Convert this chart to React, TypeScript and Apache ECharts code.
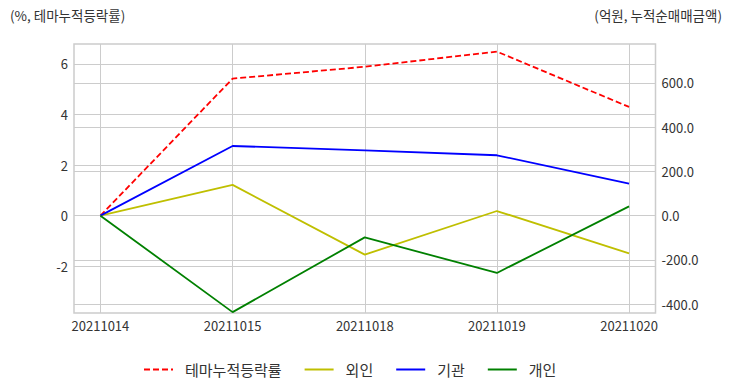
import React, { useEffect, useRef } from "react";
import * as echarts from "echarts";

const categories = ["20211014", "20211015", "20211018", "20211019", "20211020"];
const themeRate = [0, 5.42, 5.89, 6.49, 4.3];
const foreign = [0, 139, -176, 21, -170];
const institution = [0, 315, 295, 273, 145];
const individual = [0, -436, -98, -259, 42];

const leftTicks = [-2, 0, 2, 4, 6];
const rightTicks = [-400, -200, 0, 200, 400, 600];
const xTicks = [0, 1, 2, 3, 4];

const leftTitle = "(%, 테마누적등락률)";
const rightTitle = "(억원, 누적순매매금액)";

const FONT = "'Noto Sans CJK KR', 'Noto Sans', sans-serif";

export default function App() {
  const ref = useRef<HTMLDivElement>(null);
  useEffect(() => {
    if (!ref.current) return;
    const chart = echarts.init(ref.current, null, { renderer: "svg" });
    const toPts = (arr: number[]) => arr.map((v, i) => [i, v]);
    const lineSeries = (name: string, data: number[], color: string, yIdx: number, dashed = false) => ({
      name,
      type: "line",
      yAxisIndex: yIdx,
      data: toPts(data),
      showSymbol: false,
      symbol: "none",
      lineStyle: { color, width: 1.8, type: dashed ? [6, 3] : "solid" },
      itemStyle: { color },
      z: 3,
    });
    const split = { show: true, lineStyle: { color: "#cccccc", width: 1 } };
    chart.setOption({
      animation: false,
      textStyle: { fontFamily: FONT },
      grid: { left: 74, right: 76.5, top: 44, height: 269, show: true, borderColor: "#cccccc", borderWidth: 1.5 },
      xAxis: {
        type: "value",
        min: -0.2,
        max: 4.2,
        axisLine: { show: false },
        axisTick: { show: false, customValues: xTicks },
        splitLine: split,
        axisLabel: {
          customValues: xTicks,
          color: "#333333",
          fontSize: 13,
          fontFamily: FONT,
          margin: 6,
          formatter: (v: number) => categories[Math.round(v)] ?? "",
        },
      },
      yAxis: [
        {
          type: "value",
          min: -3.85,
          max: 6.79,
          axisLine: { show: false },
          axisTick: { show: false, customValues: leftTicks },
          splitLine: split,
          axisLabel: {
            customValues: leftTicks,
            color: "#333333",
            fontSize: 13,
            fontFamily: FONT,
            margin: 6,
            formatter: (v: number) => String(Math.round(v)),
          },
        },
        {
          type: "value",
          min: -440,
          max: 776,
          position: "right",
          axisLine: { show: false },
          axisTick: { show: false, customValues: rightTicks },
          splitLine: split,
          axisLabel: {
            customValues: rightTicks,
            color: "#333333",
            fontSize: 13,
            fontFamily: FONT,
            margin: 6,
            formatter: (v: number) => v.toFixed(1),
          },
        },
      ],
      legend: {
        bottom: 10,
        left: 138,
        itemWidth: 29,
        itemHeight: 10,
        itemGap: 22,
        itemStyle: { opacity: 0, borderWidth: 0 },
        textStyle: { color: "#333333", fontSize: 15, fontFamily: FONT, padding: [0, 0, 0, 7] },
        data: ["테마누적등락률", "외인", "기관", "개인"],
      },
      graphic: [
        { type: "text", left: 10, top: 8, style: { text: leftTitle, fill: "#333333", fontSize: 13.5, fontFamily: FONT } },
        { type: "text", right: 10, top: 8, style: { text: rightTitle, fill: "#333333", fontSize: 13.5, fontFamily: FONT } },
      ],
      series: [
        lineSeries("테마누적등락률", themeRate, "#ff0000", 0, true),
        lineSeries("외인", foreign, "#bfbf00", 1),
        lineSeries("기관", institution, "#0000ff", 1),
        lineSeries("개인", individual, "#008000", 1),
      ],
    });
    return () => chart.dispose();
  }, []);
  return <div ref={ref} style={{ width: 732, height: 392, position: "absolute", left: 0, top: 0 }} />;
}
